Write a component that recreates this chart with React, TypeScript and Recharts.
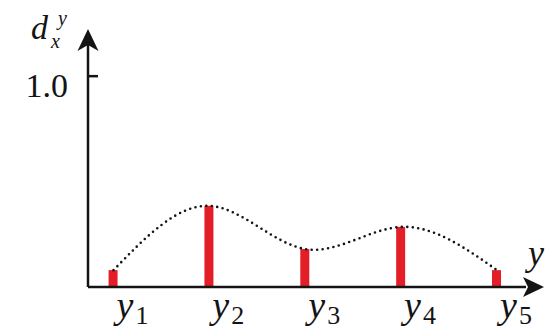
import { ComposedChart, Bar, Line, XAxis, YAxis, Label } from 'recharts'

const CATEGORIES = ['1', '2', '3', '4', '5']
const POSITIONS = [1, 2, 3, 4, 5]
const VALUES = [0.08, 0.385, 0.18, 0.285, 0.08]
const Y_TICKS = [1]
const Y_TICK_LABELS = ['1.0']

const data = CATEGORIES.map((c, i) => ({ sub: c, pos: POSITIONS[i], d: VALUES[i] }))

const SERIF = 'Liberation Serif'
const INK = '#141414'
const FONT_CSS = `
.recharts-wrapper text.serif-t, svg text.serif-t, .serif-t {
  font-family: "Liberation Serif", "DejaVu Serif", serif !important;
}
`

function XTick(props: any) {
  const { x, y, payload } = props
  const i = POSITIONS.indexOf(payload.value)
  return (
    <g>
      <text className="serif-t" x={x + 3} y={y + 31} fontFamily={SERIF} fontSize={38} fontStyle="italic" fill={INK}>
        y
      </text>
      <text className="serif-t" x={x + 22} y={y + 37} fontFamily={SERIF} fontSize={26} fill={INK}>
        {CATEGORIES[i]}
      </text>
    </g>
  )
}

function YTick(props: any) {
  const { x, y, payload } = props
  const i = Y_TICKS.indexOf(payload.value)
  return (
    <g>
      <line x1={x} x2={x + 10} y1={y} y2={y} stroke={INK} strokeWidth={2.5} />
      <text className="serif-t" x={x - 20} y={y + 21} textAnchor="end" fontFamily={SERIF} fontSize={34} fill={INK}>
        {Y_TICK_LABELS[i]}
      </text>
    </g>
  )
}

function YArrow(props: any) {
  const { viewBox } = props
  const ax = viewBox.x + viewBox.width
  const top = viewBox.y
  return (
    <g>
      <path
        d={`M${ax},${top - 5} L${ax - 10.5},${top + 17} L${ax},${top + 11} L${ax + 10.5},${top + 17} Z`}
        fill={INK}
      />
      <text className="serif-t" x={ax - 57} y={top + 5} fontFamily={SERIF} fontSize={34} fontStyle="italic" fill={INK}>d</text>
      <text className="serif-t" x={ax - 37} y={top + 14} fontFamily={SERIF} fontSize={20} fontStyle="italic" fill={INK}>x</text>
      <text className="serif-t" x={ax - 30} y={top - 9} fontFamily={SERIF} fontSize={20} fontStyle="italic" fill={INK}>y</text>
    </g>
  )
}

function XArrow(props: any) {
  const { viewBox } = props
  const right = viewBox.x + viewBox.width
  const ay = viewBox.y
  return (
    <g>
      <path
        d={`M${right + 18},${ay} L${right - 3},${ay - 10} L${right + 2},${ay} L${right - 3},${ay + 10} Z`}
        fill={INK}
      />
      <text className="serif-t" x={right + 2} y={ay - 22} fontFamily={SERIF} fontSize={36} fontStyle="italic" fill={INK}>
        y
      </text>
    </g>
  )
}

export default function App() {
  return (
    <div style={{ position: 'absolute', left: 0, top: 0, width: 552, height: 327, background: '#fff', fontFamily: SERIF }}>
      <style>{FONT_CSS}</style>
      <ComposedChart width={552} height={327} data={data} margin={{ top: 34, right: 26, bottom: 0, left: 0 }}>
        <XAxis
          dataKey="pos"
          type="number"
          domain={[0.734, 5.303]}
          ticks={POSITIONS}
          tick={<XTick />}
          tickLine={false}
          tickSize={0}
          tickMargin={0}
          height={40}
          axisLine={{ stroke: INK, strokeWidth: 2.5 }}
        >
          <Label content={<XArrow />} />
        </XAxis>
        <YAxis
          type="number"
          domain={[0, 1.2]}
          ticks={Y_TICKS}
          tick={<YTick />}
          tickLine={false}
          tickSize={0}
          tickMargin={0}
          width={88}
          axisLine={{ stroke: INK, strokeWidth: 2.5 }}
        >
          <Label content={<YArrow />} />
        </YAxis>
        <Bar dataKey="d" fill="#e31e26" barSize={9} isAnimationActive={false} />
        <Line
          dataKey="d"
          type="natural"
          stroke={INK}
          strokeWidth={2.6}
          strokeDasharray="0 5.5"
          strokeLinecap="round"
          dot={false}
          activeDot={false}
          isAnimationActive={false}
        />
      </ComposedChart>
    </div>
  )
}
